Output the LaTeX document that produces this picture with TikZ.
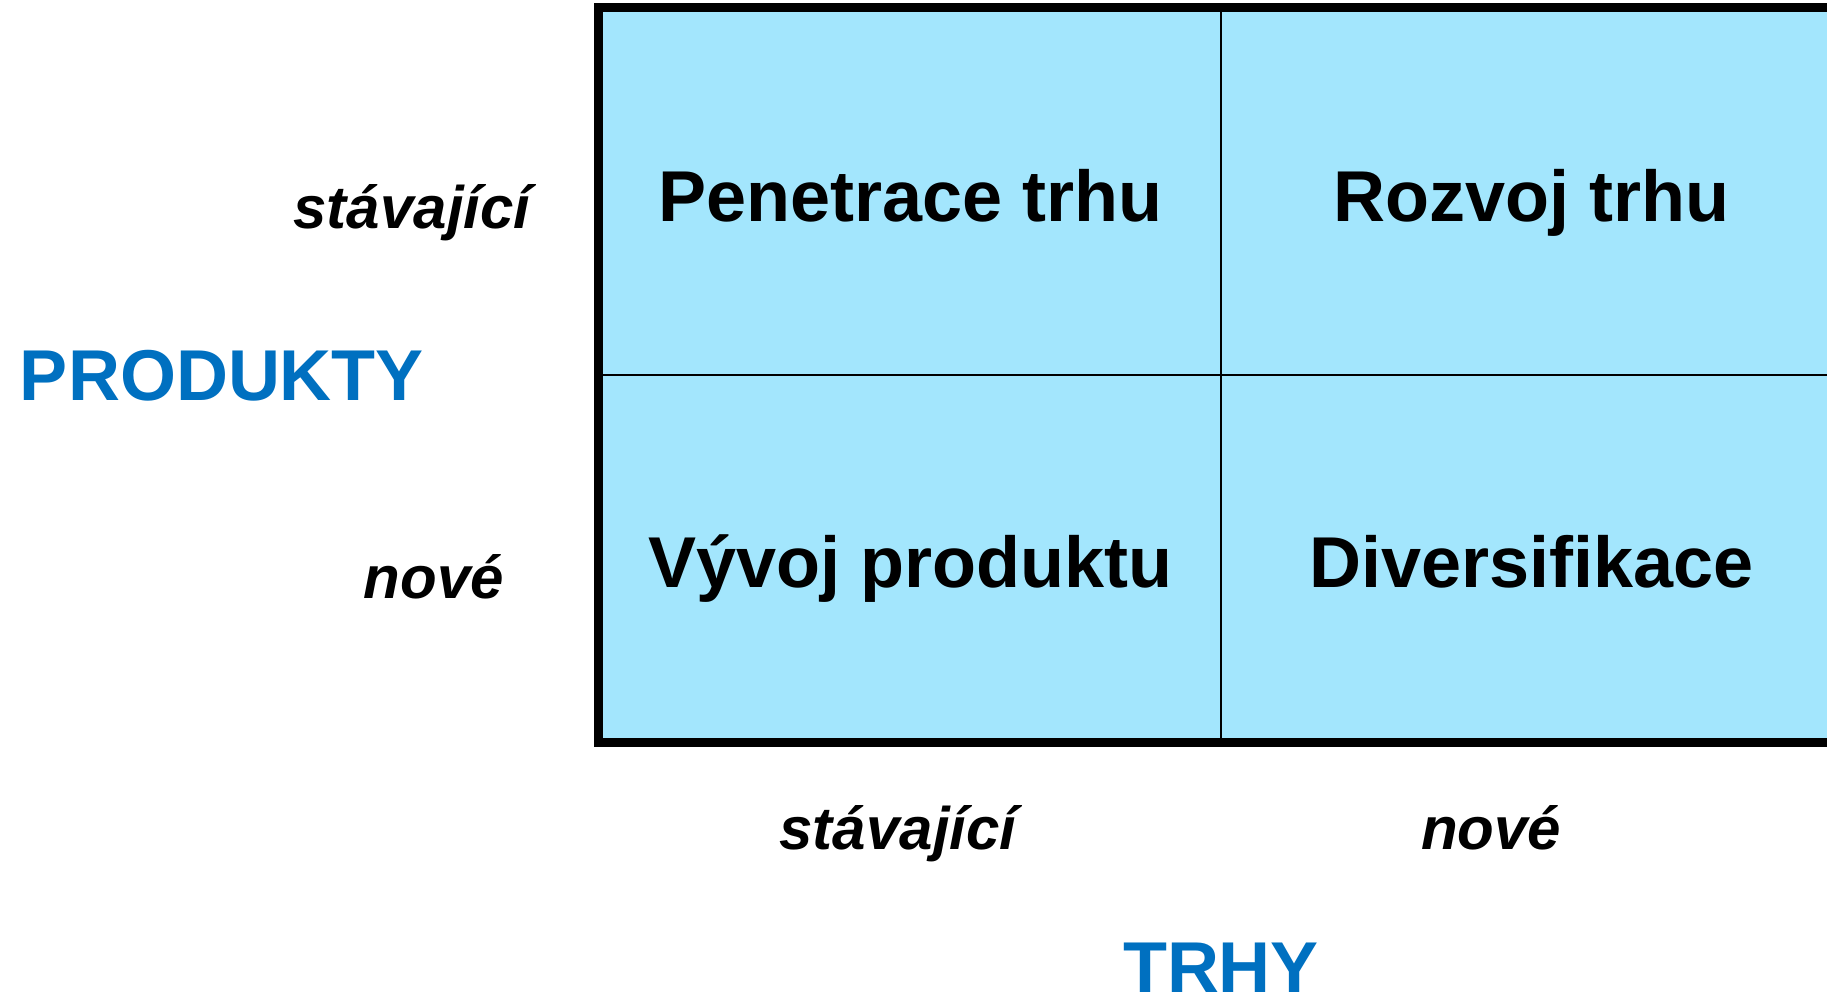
\documentclass[tikz,border=0pt]{standalone}
\usepackage{fontspec}
\setmainfont{Liberation Sans}
\definecolor{cellblue}{HTML}{A3E6FD}
\definecolor{axisblue}{HTML}{0070C0}
\begin{document}
\begin{tikzpicture}[x=1pt,y=-1pt,
  cell/.style={draw=black, line width=2pt, fill=cellblue,
    minimum width=621.5pt, minimum height=366.5pt, inner sep=0pt,
    text height=59pt, text depth=0pt,
    font=\fontsize{72}{86}\selectfont\bfseries},
  ticklabel/.style={font=\fontsize{60}{72}\selectfont\bfseries\itshape,
    anchor=base, inner sep=0pt},
  axislabel/.style={font=\fontsize{72}{86}\selectfont\bfseries,
    text=axisblue, anchor=base, inner sep=0pt}]
\useasboundingbox (0,0) rectangle (1827,999);
\clip (0,0) rectangle (1827,999);

% the four strategy cells
\node[cell] (pen) at (910.25,191.75)  {Penetrace trhu};
\node[cell] (roz) at (1531.75,191.75) {Rozvoj trhu};
\node[cell] (vyv) at (910.25,558.25)  {Vývoj produktu};
\node[cell] (div) at (1531.75,558.25) {Diversifikace};

% heavy outer frame
\draw[line width=9.5pt] (pen.north west) rectangle (div.south east);

% row labels
\node[ticklabel] (rs) at (412,228) {stávající};
\node[ticklabel] (rn) at (434,598) {nové};
\node[axislabel] (prod) at (222,400) {PRODUKTY};

% column labels
\node[ticklabel] (cs) at (898,849) {stávající};
\node[ticklabel] (cn) at (1491,849) {nové};
\node[axislabel] (trhy) at (1221,992) {TRHY};
\end{tikzpicture}
\end{document}
